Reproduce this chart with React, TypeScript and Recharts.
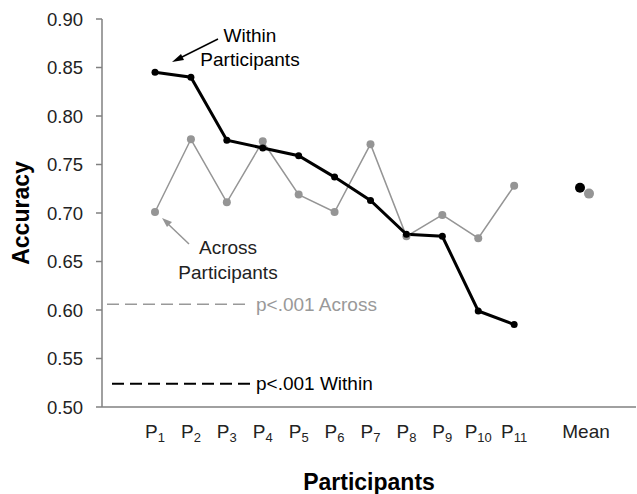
import React from "react";
import { Label, Line, LineChart, ReferenceLine, XAxis, YAxis } from "recharts";

document.body.style.margin = "0";

const participants = ["P1", "P2", "P3", "P4", "P5", "P6", "P7", "P8", "P9", "P10", "P11"];
const withinAccuracy = [0.845, 0.84, 0.775, 0.767, 0.759, 0.737, 0.713, 0.678, 0.676, 0.599, 0.585];
const acrossAccuracy = [0.701, 0.776, 0.711, 0.774, 0.719, 0.701, 0.771, 0.676, 0.698, 0.674, 0.728];
const meanLabel = "Mean";
const meanWithin = 0.726;
const meanAcross = 0.72;
const pWithin = 0.524;
const pAcross = 0.606;
const yTicks = [0.5, 0.55, 0.6, 0.65, 0.7, 0.75, 0.8, 0.85, 0.9];

const FONT = "'Liberation Sans', Arial, sans-serif";
const GREY = "#959595";
const AXIS = "#808080";

const rows = [
  ...participants.map((p, i) => ({ slot: p, within: withinAccuracy[i], across: acrossAccuracy[i] })),
  { slot: "gap" },
  { slot: meanLabel, meanWithin, meanAcross },
];

function SlotTick(props: any) {
  const { x, y, payload } = props;
  const v: string = payload.value;
  if (v === meanLabel) {
    return (
      <text x={x} y={y + 23} textAnchor="middle" fontSize={19} fill="#222" fontFamily={FONT}>
        {v}
      </text>
    );
  }
  if (!v.startsWith("P")) return <g />;
  return (
    <text x={x} y={y + 23} textAnchor="middle" fontSize={19} fill="#222" fontFamily={FONT}>
      <tspan>P</tspan>
      <tspan fontSize={13} dy={4}>{v.slice(1)}</tspan>
    </text>
  );
}

function threshold(color: string, text: string, width: number, start: number) {
  return (props: any) => {
    const { x1, y1 } = props;
    if (x1 == null || y1 == null) return <g />;
    return (
      <g>
        <line x1={x1 + start} x2={x1 + 148} y1={y1} y2={y1} stroke={color} strokeWidth={width} strokeDasharray="12 6" />
        <text x={x1 + 154} y={y1} dy="0.35em" fontSize={19} fill={color} fontFamily={FONT}>
          {text}
        </text>
      </g>
    );
  };
}

function meanDot(color: string, shift: number) {
  return (p: any) => {
    if (p.cy == null || p.value == null) return <g key={p.key ?? p.index} />;
    return <circle key={p.key ?? p.index} cx={p.cx + shift} cy={p.cy} r={5} fill={color} />;
  };
}

export default function App() {
  return (
    <div style={{ position: "relative", width: 637, height: 494, background: "#fff" }}>
      <LineChart width={637} height={494} data={rows} margin={{ top: 19, right: 1, bottom: 0, left: 0 }}>
        <XAxis
          dataKey="slot"
          interval={0}
          height={87}
          padding={{ left: 53, right: 50 }}
          tickLine={false}
          axisLine={{ stroke: AXIS, strokeWidth: 1.5 }}
          tick={<SlotTick />}
        >
          <Label
            content={(props: any) => {
              const vb = props.viewBox;
              return (
                <text x={vb.x + vb.width / 2} y={490} textAnchor="middle" fontSize={23} fontWeight="bold" fill="#000" fontFamily={FONT}>
                  Participants
                </text>
              );
            }}
          />
        </XAxis>
        <YAxis
          domain={[0.5, 0.9]}
          ticks={yTicks}
          width={102}
          tickSize={6}
          tickMargin={13}
          tickFormatter={(v: number) => v.toFixed(2)}
          tick={{ fontSize: 18.5, fill: "#222", fontFamily: FONT }}
          tickLine={{ stroke: AXIS, strokeWidth: 1.5 }}
          axisLine={{ stroke: AXIS, strokeWidth: 1.5 }}
        >
          <Label
            content={() => (
              <text
                x={0}
                y={0}
                transform="translate(29 213) rotate(-90)"
                textAnchor="middle"
                fontSize={23}
                fontWeight="bold"
                fill="#000"
                fontFamily={FONT}
              >
                Accuracy
              </text>
            )}
          />
        </YAxis>
        <ReferenceLine y={pAcross} shape={threshold("#999", "p<.001 Across", 1.5, 5)} />
        <ReferenceLine y={pWithin} shape={threshold("#000", "p<.001 Within", 2, 10)} />
        <Line
          dataKey="across"
          stroke={GREY}
          strokeWidth={1.5}
          dot={{ r: 4, fill: GREY, stroke: GREY, strokeWidth: 0 }}
          isAnimationActive={false}
        />
        <Line
          dataKey="within"
          stroke="#000"
          strokeWidth={3}
          dot={{ r: 3.5, fill: "#000", stroke: "#000", strokeWidth: 0 }}
          isAnimationActive={false}
        />
        <Line dataKey="meanWithin" stroke="none" dot={meanDot("#000", -6)} isAnimationActive={false} />
        <Line dataKey="meanAcross" stroke="none" dot={meanDot(GREY, 3)} isAnimationActive={false} />
      </LineChart>
      <svg width={637} height={494} style={{ position: "absolute", left: 0, top: 0, pointerEvents: "none" }}>
        <g fontFamily={FONT} fontSize={19} textAnchor="middle">
          <text x={250} y={42} fill="#000">Within</text>
          <text x={250} y={66} fill="#000">Participants</text>
          <text x={228} y={254} fill="#222">Across</text>
          <text x={228} y={279} fill="#222">Participants</text>
        </g>
        <line x1={218} y1={39} x2={178} y2={59} stroke="#000" strokeWidth={1.5} />
        <polygon points="172,62 181,54 184,60" fill="#000" />
        <line x1={189} y1={244} x2={167} y2={223} stroke={GREY} strokeWidth={1.5} />
        <polygon points="162,218 172,222 167,227" fill={GREY} />
      </svg>
    </div>
  );
}
